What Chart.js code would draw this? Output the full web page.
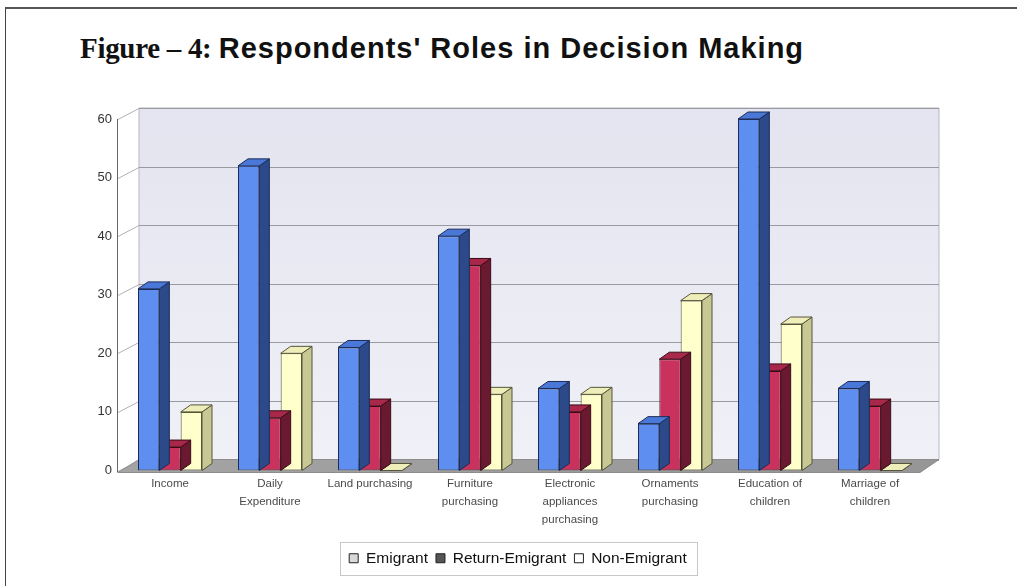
<!DOCTYPE html>
<html>
<head>
<meta charset="utf-8">
<script src="https://cdn.jsdelivr.net/npm/chart.js@4.4.1/dist/chart.umd.min.js"></script>
<style>
  html, body { margin: 0; padding: 0; background: #fff; }
  #wrap { position: relative; width: 1017px; height: 586px; overflow: hidden; }
  #frame { position: absolute; left: 5px; top: 7px; width: 1020px; height: 600px;
           border-left: 1px solid #444; border-top: 2px solid #555; box-sizing: border-box; }
  #title { position: absolute; left: 80px; top: 32px; font-size: 29px; font-weight: bold;
           color: #111; white-space: nowrap; }
  #title .fig { font-family: "Liberation Serif", "DejaVu Serif", serif; letter-spacing: -0.3px; }
  #title .rest { font-family: "Liberation Sans", Arial, sans-serif; letter-spacing: 1px; }
  canvas { position: absolute; left: 0; top: 0; }
</style>
</head>
<body>
<div id="wrap">
  <div id="frame"></div>
  <div id="title"><span class="fig">Figure – 4:</span> <span class="rest">Respondents' Roles in Decision Making</span></div>
  <canvas id="canvas" width="1017" height="586"></canvas>
</div>
<script>
// categories and values
const categories = [
  'Income',
  ['Daily', 'Expenditure'],
  'Land purchasing',
  ['Furniture', 'purchasing'],
  ['Electronic', 'appliances', 'purchasing'],
  ['Ornaments', 'purchasing'],
  ['Education of', 'children'],
  ['Marriage of', 'children']
];
const emigrant       = [31, 52, 21, 40, 14, 8, 60, 14];
const returnEmigrant = [4, 9, 11, 35, 10, 19, 17, 11];
const nonEmigrant    = [10, 20, 0, 13, 13, 29, 25, 0];
const yTicks = [0, 10, 20, 30, 40, 50, 60];

// depth of the fake 3d (wall / bars)
const WALL_DX = 19, WALL_DY = -11;
const BAR_DX = 10, BAR_DY = -7;

const faces = [
  { front: '#5e8ef0', side: '#2c4a8a', top: '#4a78d8', line: '#1c2c55', legend: '#d8d8d8' },
  { front: '#c8325c', side: '#6a1a30', top: '#a8284a', line: '#3a0c18', legend: '#555555' },
  { front: '#ffffcc', side: '#c8c894', top: '#eeeebb', line: '#55553a', legend: '#ffffff' }
];

function poly(ctx, pts, fill, stroke) {
  ctx.beginPath();
  ctx.moveTo(pts[0][0], pts[0][1]);
  for (let i = 1; i < pts.length; i++) ctx.lineTo(pts[i][0], pts[i][1]);
  ctx.closePath();
  if (fill) { ctx.fillStyle = fill; ctx.fill(); }
  if (stroke) { ctx.strokeStyle = stroke; ctx.lineWidth = 1; ctx.stroke(); }
}

const scene3d = {
  id: 'scene3d',
  afterLayout(chart) {
    // legend sits a little right of the page centre in the original
    chart.legend.left += 13;
    chart.legend.right += 13;
  },
  beforeDatasetsDraw(chart) {
    const ctx = chart.ctx, a = chart.chartArea, y = chart.scales.y;
    ctx.save();
    // back wall
    const g = ctx.createLinearGradient(0, a.top + WALL_DY, 0, a.bottom + WALL_DY);
    g.addColorStop(0, '#e4e4f0');
    g.addColorStop(1, '#f0f0f7');
    poly(ctx, [[a.left + WALL_DX, a.top + WALL_DY], [a.right + WALL_DX, a.top + WALL_DY],
               [a.right + WALL_DX, a.bottom + WALL_DY], [a.left + WALL_DX, a.bottom + WALL_DY]], g, '#b8b8c0');
    // grid lines on the wall and the short diagonals to the axis
    yTicks.forEach(v => {
      const py = Math.round(y.getPixelForValue(v)) + 0.5;
      ctx.strokeStyle = '#9a9aa2';
      ctx.lineWidth = 1;
      ctx.beginPath();
      ctx.moveTo(a.left + WALL_DX, py + WALL_DY);
      ctx.lineTo(a.right + WALL_DX, py + WALL_DY);
      ctx.stroke();
      ctx.strokeStyle = '#b0b0b8';
      ctx.beginPath();
      ctx.moveTo(a.left - 2, py);
      ctx.lineTo(a.left + WALL_DX, py + WALL_DY);
      ctx.stroke();
    });
    // floor
    const f = ctx.createLinearGradient(a.left, 0, a.right, 0);
    f.addColorStop(0, '#a4a4a4');
    f.addColorStop(1, '#969696');
    poly(ctx, [[a.left - 2, a.bottom + 2], [a.right, a.bottom + 2],
               [a.right + WALL_DX, a.bottom + WALL_DY], [a.left + WALL_DX, a.bottom + WALL_DY]], f, '#8c8c8c');
    // front axis line
    ctx.strokeStyle = '#666';
    ctx.beginPath();
    ctx.moveTo(a.left - 2.5, y.getPixelForValue(60));
    ctx.lineTo(a.left - 2.5, a.bottom + 2);
    ctx.stroke();
    ctx.restore();
  },
  afterDatasetDraw(chart, args) {
    const ctx = chart.ctx, c = faces[args.index];
    ctx.save();
    args.meta.data.forEach(bar => {
      const p = bar.getProps(['x', 'y', 'base', 'width'], true);
      const l = p.x - p.width / 2, r = p.x + p.width / 2;
      const t = Math.min(p.y, p.base), b = Math.max(p.y, p.base);
      poly(ctx, [[r, t], [r + BAR_DX, t + BAR_DY], [r + BAR_DX, b + BAR_DY], [r, b]], c.side, c.line);
      poly(ctx, [[l, t], [l + BAR_DX, t + BAR_DY], [r + BAR_DX, t + BAR_DY], [r, t]], c.top, c.line);
    });
    ctx.restore();
  },
  afterDraw(chart) {
    // thin frame round the legend
    const boxes = chart.legend.legendHitBoxes;
    if (!boxes || !boxes.length) return;
    const ctx = chart.ctx;
    const l = Math.min(...boxes.map(h => h.left)) - 9;
    const r = Math.max(...boxes.map(h => h.left + h.width)) + 10;
    const t = boxes[0].top - 9, h = boxes[0].height + 17;
    ctx.save();
    ctx.strokeStyle = '#c8c8c8';
    ctx.lineWidth = 1;
    ctx.strokeRect(Math.round(l) + 0.5, Math.round(t) + 0.5, Math.round(r - l), Math.round(h));
    ctx.restore();
  }
};

const datasets = [
  { label: 'Emigrant', data: emigrant },
  { label: 'Return-Emigrant', data: returnEmigrant },
  { label: 'Non-Emigrant', data: nonEmigrant }
].map((d, i) => Object.assign(d, {
  backgroundColor: faces[i].front,
  borderColor: faces[i].line,
  borderWidth: 1,
  borderSkipped: false,
  categoryPercentage: 0.64,
  barPercentage: 1.0
}));

new Chart(document.getElementById('canvas'), {
  type: 'bar',
  data: { labels: categories, datasets: datasets },
  plugins: [scene3d],
  options: {
    responsive: false,
    animation: false,
    layout: { padding: { left: 90, right: 97, top: 119, bottom: 10 } },
    scales: {
      x: {
        grid: { display: false, drawTicks: false },
        border: { display: false },
        ticks: {
          autoSkip: false, maxRotation: 0, padding: 4, color: '#4a4a4a',
          font: { family: 'Liberation Sans, Arial, sans-serif', size: 11.5, lineHeight: 1.58 }
        },
        afterFit(s) { s.height = 72; }
      },
      y: {
        min: 0, max: 60,
        grid: { display: false, drawTicks: false },
        border: { display: false },
        ticks: {
          stepSize: 10, padding: 8, color: '#333',
          font: { family: 'Liberation Sans, Arial, sans-serif', size: 13 }
        },
        afterFit(s) { s.width = 30; }
      }
    },
    plugins: {
      title: { display: false },
      tooltip: { enabled: false },
      legend: {
        position: 'bottom',
        labels: {
          boxWidth: 9, boxHeight: 9, padding: 8, color: '#111',
          font: { family: 'Liberation Sans, Arial, sans-serif', size: 15.5 },
          generateLabels(chart) {
            return chart.data.datasets.map((d, i) => ({
              text: d.label, fillStyle: faces[i].legend, strokeStyle: '#222',
              lineWidth: 1, datasetIndex: i, hidden: false, fontColor: '#111'
            }));
          }
        }
      }
    }
  }
});
</script>
</body>
</html>
